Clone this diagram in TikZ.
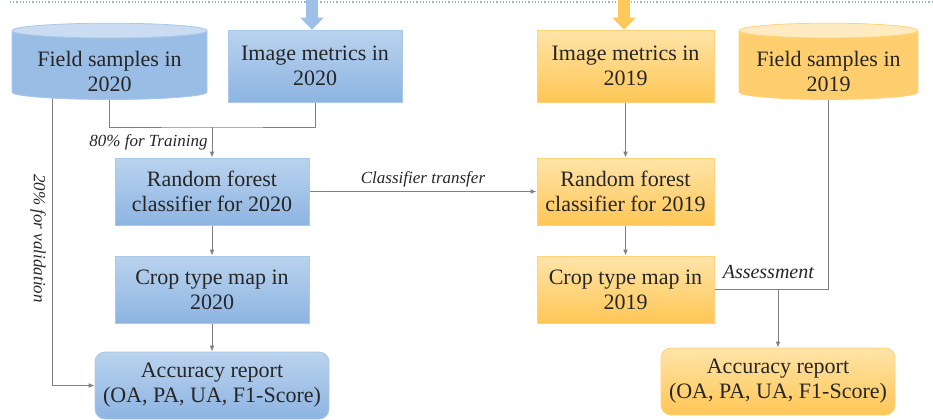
\documentclass[tikz,border=0pt]{standalone}
\usepackage{fontspec}
\setmainfont{Liberation Serif}
\newfontfamily\timesish{Liberation Serif}
\usetikzlibrary{arrows.meta,positioning,shapes.geometric,backgrounds}
\definecolor{bluetop}{HTML}{BAD3EE}
\definecolor{bluebot}{HTML}{8DB4E2}
\definecolor{blueedge}{HTML}{A9C8EA}
\definecolor{bluecap}{HTML}{C9DCF2}
\definecolor{orgtop}{HTML}{FFE4A8}
\definecolor{orgbot}{HTML}{FFC656}
\definecolor{orgedge}{HTML}{FFD27A}
\definecolor{orgcap}{HTML}{FFEBC2}
\definecolor{linec}{HTML}{808080}
\definecolor{textc}{HTML}{262626}
\definecolor{dotc}{HTML}{9FB3CC}
\definecolor{feedblue}{HTML}{9DC0E8}
\definecolor{feedorg}{HTML}{FFC85A}
\tikzset{
  box/.style={draw=blueedge,line width=0.4pt,top color=bluetop,bottom color=bluebot,
    inner sep=2pt,align=center,text=textc,font=\timesish\fontsize{11}{12.5}\selectfont,
    minimum height=33.5pt},
  boxo/.style={box,draw=orgedge,top color=orgtop,bottom color=orgbot},
  rep/.style={box,rounded corners=5pt},
  repo/.style={boxo,rounded corners=5pt},
  drum/.style={cylinder,shape border rotate=90,aspect=0.1,draw=blueedge,line width=0.4pt,
    cylinder uses custom fill,cylinder body fill=bluebot!70!bluetop,cylinder end fill=bluecap,
    inner sep=1pt,align=center,text=textc,font=\timesish\fontsize{11}{12.5}\selectfont,
    minimum width=97.5pt,minimum height=33pt},
  drumo/.style={drum,draw=orgedge,cylinder body fill=orgbot!70!orgtop,cylinder end fill=orgcap},
  flow/.style={-{Latex[length=3pt,width=2.4pt]},line width=0.5pt,draw=linec},
  link/.style={line width=0.5pt,draw=linec},
  elabel/.style={font=\timesish\fontsize{8.5}{10}\selectfont\itshape,text=textc,inner sep=2pt},
  feed/.style={-{Triangle[length=6pt,width=11.5pt]},line width=6pt},
}
\newcommand{\drumtop}{\rule{0pt}{13pt}}
\begin{document}
\begin{tikzpicture}[x=0.5pt,y=-0.5pt]
  \useasboundingbox (0,0) rectangle (933,419);
  % dotted rule and the two inputs from above
  \draw[dotc,densely dotted,line width=0.6pt] (10,2) -- (933,2);
  \coordinate (in20) at (312,0);
  \coordinate (in19) at (624,0);
  % 2020 column
  \node[drum] (fs20) at (109.5,66) {\drumtop Field samples in\\2020};
  \node[box,minimum width=87pt,minimum height=36pt] (im20) at (315,66) {Image metrics in\\2020};
  \node[box,minimum width=97pt] (rf20) at (212,191.5) {Random forest\\classifier for 2020};
  \node[box,minimum width=97pt] (cm20) at (212,289.5) {Crop type map in\\2020};
  \node[rep,minimum width=117pt] (acc20) at (212,385.5) {Accuracy report\\(OA, PA, UA, F1-Score)};
  % 2019 column
  \node[boxo,minimum width=88.5pt,minimum height=36pt] (im19) at (625.5,66) {Image metrics in\\2019};
  \node[drumo,minimum width=89.5pt] (fs19) at (828.5,66) {\drumtop Field samples in\\2019};
  \node[boxo,minimum width=88.5pt] (rf19) at (625.5,191.5) {Random forest\\classifier for 2019};
  \node[boxo,minimum width=88.5pt] (cm19) at (625.5,289.5) {Crop type map in\\2019};
  \node[repo,minimum width=117pt] (acc19) at (778,381.5) {Accuracy report\\(OA, PA, UA, F1-Score)};
  \draw[feed,feedblue] (in20) -- (in20 |- im20.north);
  \draw[feed,feedorg] (in19) -- (in19 |- im19.north);
  % connectors
  \coordinate (join20) at (212,127);
  \coordinate (val) at (52,0);
  \coordinate (assess) at (acc19.north |- cm19.east);
  \begin{scope}[on background layer]
    \draw[link] (fs20.center) |- (join20) -| (im20.center);
    \draw[flow] (join20) -- (rf20.north) node[midway,left,elabel]{80\% for Training};
    \draw[flow] (fs20.center -| val) |- (acc20.west)
      node[pos=0.27,xshift=-7pt,rotate=-90,elabel]{20\% for validation};
    \draw[flow] (rf20) -- (cm20);
    \draw[flow] (cm20) -- (acc20);
    \draw[flow] (rf20) -- (rf19) node[midway,above,elabel]{Classifier transfer};
    \draw[flow] (im19) -- (rf19);
    \draw[flow] (rf19) -- (cm19);
    \draw[link] (fs19.center) |- (cm19.east);
    \draw[flow] (assess) -- (acc19.north);
  \end{scope}
  \node[elabel,font=\timesish\fontsize{10}{12}\selectfont\itshape,anchor=south west]
    (assesslab) at ([xshift=2pt,yshift=3pt]cm19.east) {Assessment};
\end{tikzpicture}
\end{document}
